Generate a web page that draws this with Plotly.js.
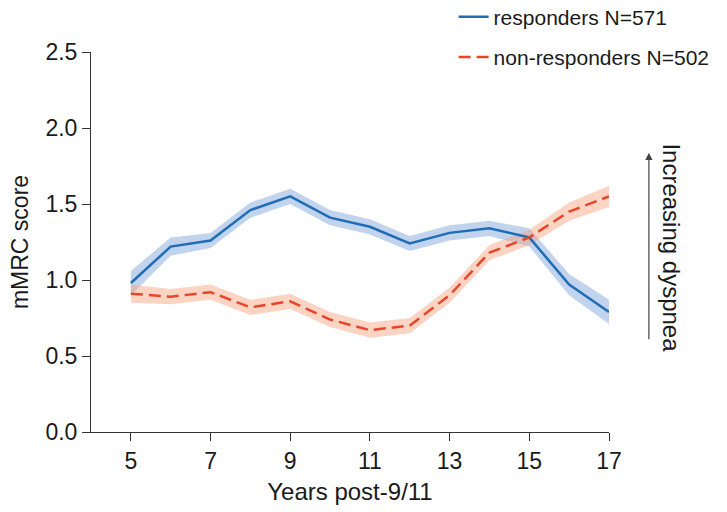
<!DOCTYPE html>
<html>
<head>
<meta charset="utf-8">
<script src="https://cdn.plot.ly/plotly-3.0.1.min.js"></script>
<style>html,body{margin:0;padding:0;background:#fff;}#chart{width:727px;height:512px;}</style>
</head>
<body>
<div id="chart"></div>
<script>
const years = [5, 6, 7, 8, 9, 10, 11, 12, 13, 14, 15, 16, 17];
const responders = [0.98, 1.22, 1.26, 1.46, 1.55, 1.41, 1.35, 1.24, 1.31, 1.34, 1.28, 0.97, 0.79];
const respHalfCI = [0.08, 0.06, 0.05, 0.05, 0.05, 0.05, 0.05, 0.05, 0.05, 0.05, 0.06, 0.07, 0.08];
const nonResponders = [0.91, 0.89, 0.92, 0.82, 0.86, 0.74, 0.67, 0.70, 0.90, 1.18, 1.28, 1.45, 1.55];
const nonRespHalfCI = [0.06, 0.05, 0.05, 0.05, 0.05, 0.05, 0.05, 0.05, 0.05, 0.05, 0.05, 0.06, 0.07];
const xTicks = [5, 7, 9, 11, 13, 15, 17];
const yTicks = [0, 0.5, 1.0, 1.5, 2.0, 2.5];
const yTickText = ['0.0', '0.5', '1.0', '1.5', '2.0', '2.5'];

function band(vals, half) {
  const up = vals.map((v, i) => v + half[i]);
  const lo = vals.map((v, i) => v - half[i]);
  return {
    x: years.concat(years.slice().reverse()),
    y: up.concat(lo.slice().reverse())
  };
}
const bResp = band(responders, respHalfCI);
const bNon = band(nonResponders, nonRespHalfCI);

const font = 'Liberation Sans, Arial, sans-serif';
const data = [
  {x: bResp.x, y: bResp.y, type: 'scatter', mode: 'lines', fill: 'toself',
   fillcolor: 'rgba(120,160,215,0.45)', line: {width: 0}, showlegend: false, hoverinfo: 'skip'},
  {x: bNon.x, y: bNon.y, type: 'scatter', mode: 'lines', fill: 'toself',
   fillcolor: 'rgba(248,160,125,0.45)', line: {width: 0}, showlegend: false, hoverinfo: 'skip'},
  {x: years, y: responders, type: 'scatter', mode: 'lines', name: 'responders N=571',
   legendgroup: 'a', line: {color: '#1f6db5', width: 2.5}},
  {x: years, y: nonResponders, type: 'scatter', mode: 'lines', name: 'non-responders N=502',
   legendgroup: 'b', line: {color: '#e8462a', width: 2.5, dash: '12px,6px'}}
];

const layout = {
  width: 727, height: 512,
  margin: {l: 91, r: 118, t: 52, b: 80, autoexpand: false},
  paper_bgcolor: '#fff', plot_bgcolor: '#fff',
  font: {family: font, color: '#1a1a1a', size: 20},
  xaxis: {
    range: [4, 17], tickvals: xTicks, ticks: 'outside', ticklen: 8, tickcolor: '#333',
    showline: true, linecolor: '#333', linewidth: 1, showgrid: false, zeroline: false,
    tickfont: {size: 23}, title: {text: 'Years post-9/11', font: {size: 24}, standoff: 10}
  },
  yaxis: {
    range: [0, 2.5], tickvals: yTicks, ticktext: yTickText, ticks: 'outside', ticklen: 8, tickcolor: '#333',
    showline: true, linecolor: '#333', linewidth: 1, showgrid: false, zeroline: false,
    tickfont: {size: 23}, title: {text: 'mMRC score', font: {size: 23}, standoff: 10}
  },
  showlegend: true,
  legend: {
    x: 0.70, y: 1.146, xanchor: 'left', yanchor: 'top',
    font: {size: 21}, tracegroupgap: 10, traceorder: 'grouped',
    bgcolor: 'rgba(0,0,0,0)'
  },
  annotations: [
    {xref: 'paper', yref: 'paper', x: 1.077, y: 0.735, ax: 0, ay: 188,
     axref: 'pixel', ayref: 'pixel', showarrow: true, arrowhead: 2, arrowsize: 1.2, arrowwidth: 1.2,
     arrowcolor: '#444', text: ''},
    {xref: 'paper', yref: 'paper', x: 1.121, y: 0.484, xanchor: 'center', yanchor: 'middle',
     text: 'Increasing dyspnea', textangle: 90,
     showarrow: false, font: {size: 24, color: '#1a1a1a'}}
  ]
};

Plotly.newPlot('chart', data, layout, {displayModeBar: false, staticPlot: true});
</script>
</body>
</html>
